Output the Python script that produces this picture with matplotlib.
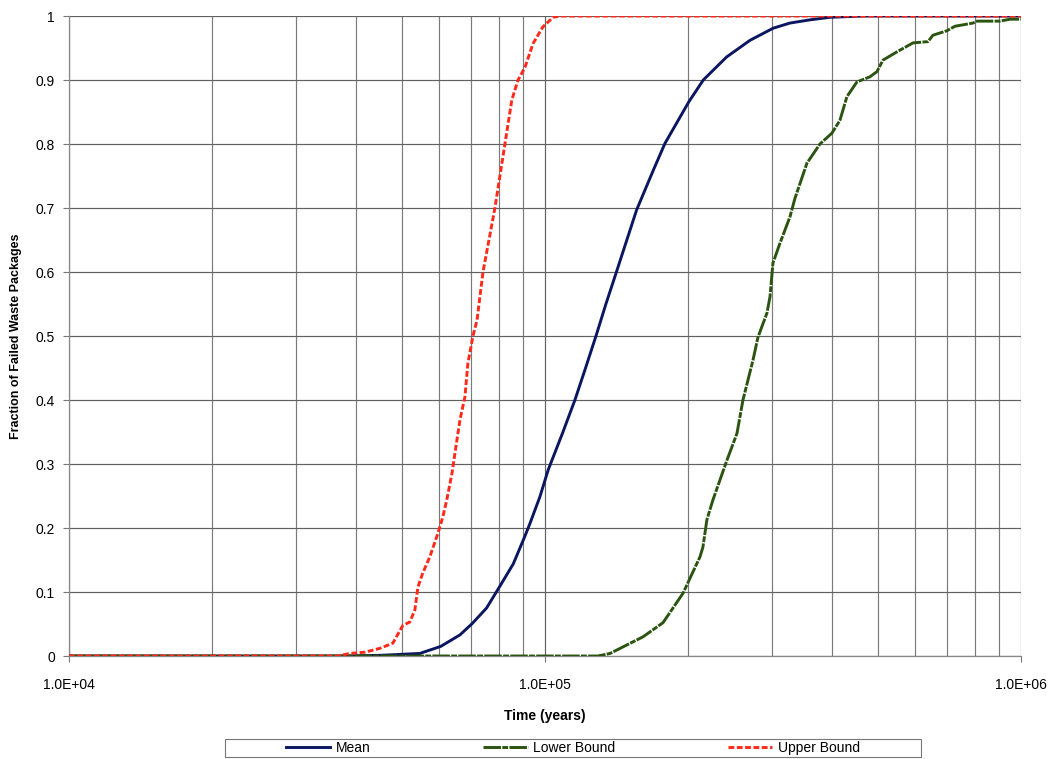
import matplotlib.pyplot as plt
from matplotlib.lines import Line2D
from matplotlib.patches import Rectangle
from matplotlib.ticker import FixedLocator, LogLocator, NullFormatter

plt.rcParams['font.family'] = ['Liberation Sans', 'DejaVu Sans']

# Fraction of failed packages over time (years)
mean_t = [1.0e4, 37100, 45000, 54600, 60400, 66300, 70400, 75400, 80400,
          85800, 90500, 93000, 97600, 101600, 109100, 115600, 121700, 128000,
          134300, 140300, 155800, 168900, 178700, 200600, 215100, 240800,
          269600, 301700, 327100, 360300, 396900, 465700, 1.0e6]
mean_f = [0, 0, 0.001, 0.004, 0.015, 0.033, 0.051, 0.075, 0.109,
          0.144, 0.185, 0.207, 0.249, 0.291, 0.350, 0.400, 0.450, 0.500,
          0.550, 0.593, 0.697, 0.759, 0.801, 0.866, 0.900, 0.936,
          0.962, 0.981, 0.989, 0.994, 0.998, 1.000, 1.000]

lower_t = [1.0e4, 129200, 137000, 160700, 177000, 195000, 211700, 214700,
           218900, 225400, 241200, 253200, 260600, 273500, 280200, 292700,
           297000, 301300, 311700, 327100, 335100, 355100, 378200, 400800,
           416600, 430900, 452300, 481600, 498200, 512900, 548900, 593200,
           637800, 653400, 699100, 726700, 793000, 808500, 903700, 948200,
           1.0e6]
lower_f = [0, 0, 0.004, 0.030, 0.052, 0.098, 0.155, 0.170,
           0.213, 0.244, 0.306, 0.348, 0.400, 0.462, 0.498, 0.536,
           0.561, 0.614, 0.645, 0.686, 0.715, 0.770, 0.800, 0.817,
           0.837, 0.874, 0.897, 0.905, 0.913, 0.931, 0.944, 0.958,
           0.960, 0.970, 0.977, 0.984, 0.989, 0.992, 0.992, 0.995,
           0.995]

upper_t = [1.0e4, 36600, 38900, 41900, 45000, 47900, 50300, 52000, 53300,
           54100, 55400, 57300, 59600, 61000, 62200, 63800, 64700, 66300,
           67900, 68900, 70600, 72000, 74100, 78500, 82400, 85200, 87800,
           90800, 94400, 99000, 104000, 107500, 1.0e6]
upper_f = [0, 0, 0.004, 0.006, 0.012, 0.020, 0.048, 0.053, 0.072,
           0.108, 0.130, 0.155, 0.192, 0.217, 0.244, 0.286, 0.317, 0.369,
           0.405, 0.458, 0.500, 0.525, 0.600, 0.700, 0.800, 0.869, 0.900,
           0.920, 0.957, 0.983, 0.998, 1.000, 1.000]

y_ticks = [0, 0.1, 0.2, 0.3, 0.4, 0.5, 0.6, 0.7, 0.8, 0.9, 1]
y_labels = ['0', '0.1', '0.2', '0.3', '0.4', '0.5', '0.6', '0.7', '0.8', '0.9', '1']
x_ticks = [1e4, 1e5, 1e6]
x_labels = ['1.0E+04', '1.0E+05', '1.0E+06']

mean_color = '#0b1660'
lower_color = '#2b5410'
upper_color = '#ff2a1a'
lower_dash = (0, (6, 0.45, 2, 0.45))
upper_dash = (0, (2.0, 0.85))

fig = plt.figure(figsize=(10.56, 7.59), dpi=100)
ax = fig.add_axes([0.0653, 0.1357, 0.9015, 0.8432])

ax.plot(mean_t, mean_f, color=mean_color, lw=2.1, zorder=3)
ax.plot(lower_t, lower_f, color=lower_color, lw=2.1, linestyle=lower_dash, zorder=3)
ax.plot(upper_t, upper_f, color=upper_color, lw=2.1, linestyle=upper_dash, zorder=4)

ax.set_xscale('log')
ax.set_xlim(1e4, 1e6)
ax.set_ylim(0, 1)

ax.xaxis.set_major_locator(FixedLocator(x_ticks))
ax.set_xticklabels(x_labels)
ax.xaxis.set_minor_locator(LogLocator(base=10, subs=range(2, 10)))
ax.xaxis.set_minor_formatter(NullFormatter())
ax.set_yticks(y_ticks)
ax.set_yticklabels(y_labels)

ax.grid(True, which='major', color='#606060', lw=0.85)
ax.grid(True, which='minor', axis='x', color='#7a7a7a', lw=0.85)
ax.tick_params(axis='both', which='major', labelsize=10, color='#777777',
               length=4, direction='out', pad=6)
ax.tick_params(axis='x', which='minor', length=0)
ax.tick_params(axis='x', which='major', pad=12)

for side in ['top', 'right']:
    ax.spines[side].set_visible(False)
for side in ['left', 'bottom']:
    ax.spines[side].set_color('#888888')
    ax.spines[side].set_linewidth(0.9)

ax.set_xlabel('Time (years)', fontsize=10, fontweight='bold', labelpad=12)
ax.set_ylabel('Fraction of Failed Waste Packages', fontsize=9, fontweight='bold',
              labelpad=10)

# legend strip below the plot with its own box
handles = [Line2D([], [], color=mean_color, lw=2.1),
           Line2D([], [], color=lower_color, lw=2.1, linestyle=lower_dash),
           Line2D([], [], color=upper_color, lw=2.1, linestyle=upper_dash)]
fig.legend(handles, ['Mean', 'Lower Bound', 'Upper Bound'],
           loc='center left', bbox_to_anchor=(286 / 1056, 11 / 759),
           ncol=3, fontsize=10, frameon=False, handlelength=3.2,
           handletextpad=0.4, columnspacing=8.1, borderpad=0, borderaxespad=0)
fig.add_artist(Rectangle((0.2135, 0.0026), 0.6586, 0.0237, transform=fig.transFigure,
                         fill=False, edgecolor='#777777', lw=0.8))

fig.savefig('out.png', dpi=100, facecolor='white')
